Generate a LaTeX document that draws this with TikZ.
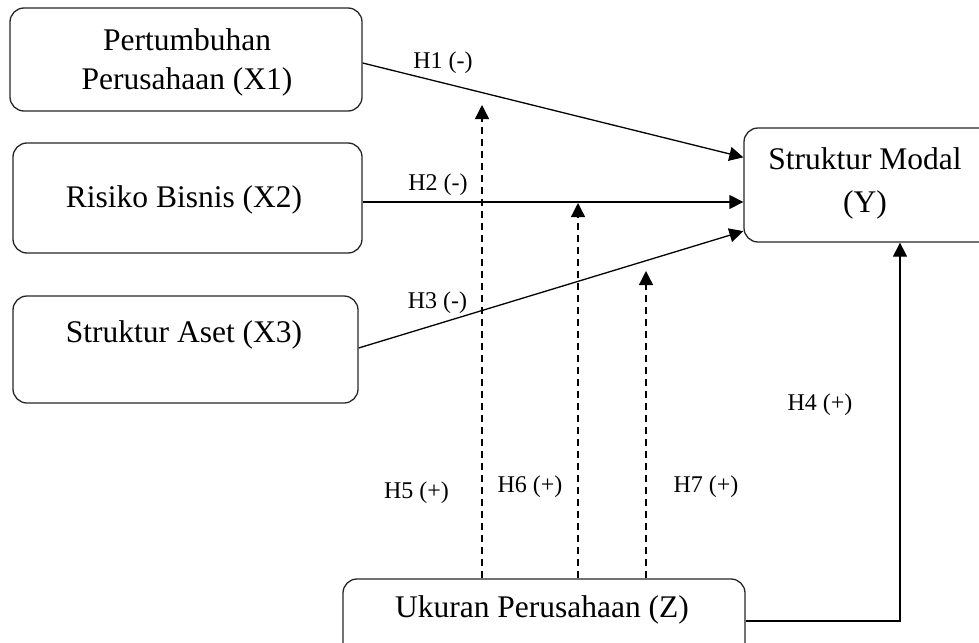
\documentclass[tikz,border=0pt]{standalone}
\usepackage{fontspec}
\setmainfont{Liberation Serif}
\usetikzlibrary{arrows.meta,calc}
\begin{document}
\begin{tikzpicture}[x=1pt,y=-1pt]
\tikzset{
  box/.style={draw=black!85, line width=1.3pt, rounded corners=14pt, inner sep=0pt},
  txt/.style={font=\fontsize{31.5}{39}\selectfont, align=center, inner sep=0pt},
  lbl/.style={font=\fontsize{24}{28}\selectfont, inner sep=0pt},
  con/.style={line width=1.3pt, -{Triangle[length=14pt,width=14pt]}},
  mod/.style={con, dash pattern=on 7pt off 5pt},
}
\useasboundingbox (0,0) rectangle (979,642);

% boxes
\node[box, minimum width=352pt, minimum height=103pt] (X1) at (186,59.5) {};
\node[box, minimum width=349pt, minimum height=110pt] (X2) at (187.5,198) {};
\node[box, minimum width=345pt, minimum height=107pt] (X3) at (185.5,349.5) {};
\node[box, minimum width=251pt, minimum height=114pt] (Y) at (869.5,185) {};
\node[box, minimum width=402pt, minimum height=84pt] (Z) at (544,621) {};

% box texts
\node[txt] (tX1) at (187,62.5) {Pertumbuhan\\Perusahaan (X1)};
\node[txt] (tX2) at (184,200) {Risiko Bisnis (X2)};
\node[txt] (tX3) at (184,335) {Struktur Aset (X3)};
\node[txt, font=\fontsize{31.5}{43}\selectfont] (tY) at (865,183.5) {Struktur Modal\\(Y)};
\node[txt] (tZ) at (542,610) {Ukuran Perusahaan (Z)};

% direct effects
\draw[con] ([yshift=-3.5pt]X1.east) -- ($(Y.north west)!0.26!(Y.south west)$);
\draw[con] ([yshift=-4pt]X2.east) -- ([yshift=-4pt]X2.east -| Y.west);
\draw[con] ([yshift=1.5pt]X3.east) -- ($(Y.north west)!0.9!(Y.south west)$);
\draw[con] (Z.east) -| ([xshift=30.5pt]Y.south);

% moderating effects
\coordinate (t5) at (482,105);
\coordinate (t6) at (578,203);
\coordinate (t7) at (646,271);
\draw[mod] (Z.north -| t5) -- (t5);
\draw[mod] (Z.north -| t6) -- (t6);
\draw[mod] (Z.north -| t7) -- (t7);

% labels
\node[lbl] (l1) at (443,63) {H1 (-)};
\node[lbl] (l2) at (438,185) {H2 (-)};
\node[lbl] (l3) at (437.5,303) {H3 (-)};
\node[lbl] (l4) at (820,405) {H4 (+)};
\node[lbl] (l5) at (416.5,493) {H5 (+)};
\node[lbl] (l6) at (530,487) {H6 (+)};
\node[lbl] (l7) at (706,487) {H7 (+)};
\end{tikzpicture}
\end{document}
